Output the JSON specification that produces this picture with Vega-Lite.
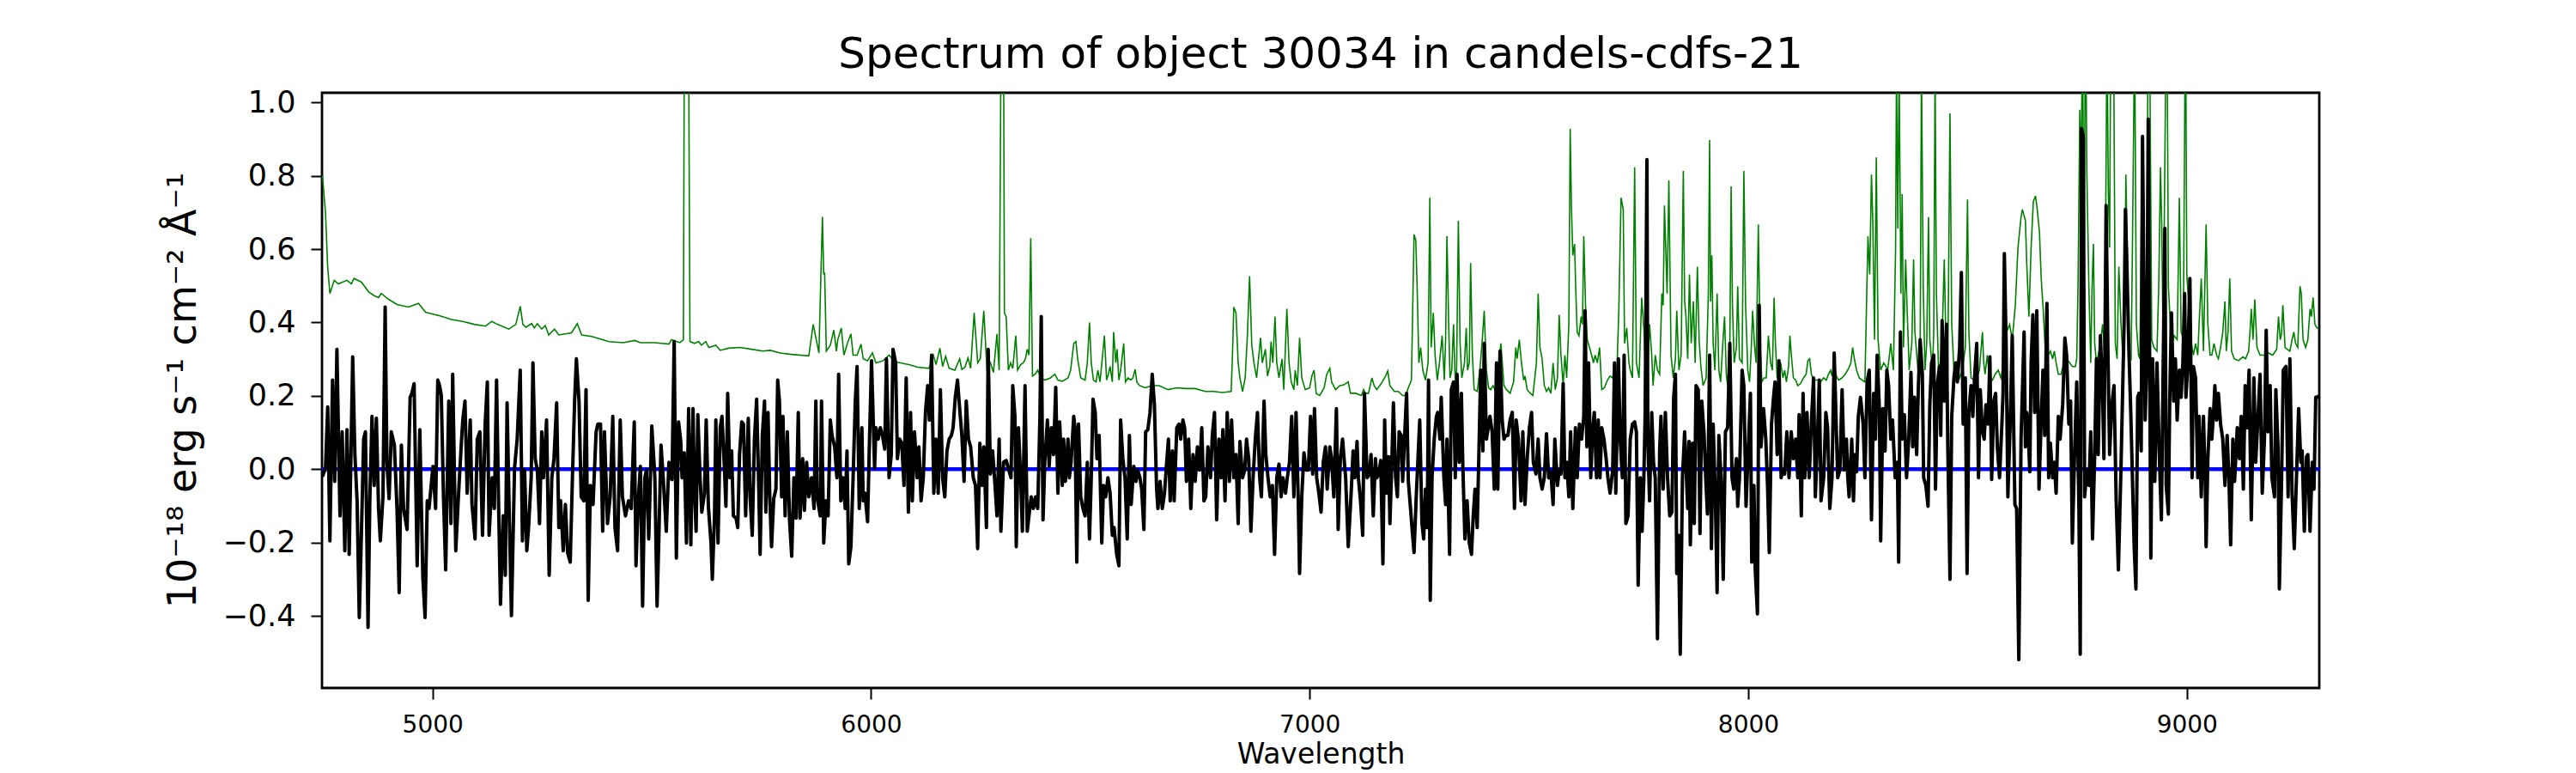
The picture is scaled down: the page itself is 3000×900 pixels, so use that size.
{
  "$schema": "https://vega.github.io/schema/vega-lite/v6.json",
  "width": 2326,
  "height": 693,
  "autosize": {"type": "none"},
  "padding": {"left": 375, "top": 108, "right": 299, "bottom": 99},
  "background": "white",
  "title": {
    "text": "Spectrum of object 30034 in candels-cdfs-21",
    "fontSize": 50,
    "fontWeight": "normal",
    "color": "black",
    "baseline": "alphabetic",
    "offset": -27
  },
  "datasets": {
    "model": [{"w": 4748, "v": 0}, {"w": 9302, "v": 0}],
    "flux": [
      {"w":4749,"v":-0.02},{"w":4756,"v":0.003},{"w":4761,"v":0.17},{"w":4766,"v":-0.195},{"w":4772,"v":0.243},{"w":4777,"v":-0.033},{"w":4782,"v":0.327},{"w":4789,"v":-0.127},{"w":4794,"v":0.102},{"w":4800,"v":-0.222},{"w":4805,"v":0.108},{"w":4810,"v":-0.232},{"w":4818,"v":0.306},{"w":4823,"v":0.04},{"w":4828,"v":-0.086},{"w":4833,"v":-0.404},{"w":4838,"v":-0.169},{"w":4843,"v":0.082},{"w":4847,"v":0.102},{"w":4853,"v":-0.431},{"w":4857,"v":-0.086},{"w":4862,"v":0.144},{"w":4867,"v":-0.044},{"w":4872,"v":0.139},{"w":4877,"v":-0.107},{"w":4881,"v":-0.195},{"w":4887,"v":-0.075},{"w":4892,"v":0.442},{"w":4896,"v":0.019},{"w":4901,"v":-0.08},{"w":4906,"v":0.102},{"w":4913,"v":0.066},{"w":4919,"v":-0.107},{"w":4924,"v":-0.336},{"w":4929,"v":0.066},{"w":4934,"v":-0.107},{"w":4942,"v":-0.164},{"w":4949,"v":0.196},{"w":4953,"v":0.207},{"w":4958,"v":0.233},{"w":4965,"v":-0.263},{"w":4971,"v":0.108},{"w":4978,"v":-0.295},{"w":4983,"v":-0.404},{"w":4988,"v":-0.086},{"w":4992,"v":-0.107},{"w":5001,"v":0.008},{"w":5007,"v":-0.107},{"w":5012,"v":0.243},{"w":5016,"v":0.228},{"w":5020,"v":0.202},{"w":5025,"v":-0.075},{"w":5030,"v":-0.274},{"w":5037,"v":0.186},{"w":5042,"v":-0.148},{"w":5046,"v":0.259},{"w":5053,"v":-0.222},{"w":5059,"v":-0.075},{"w":5066,"v":0.076},{"w":5069,"v":0.134},{"w":5074,"v":0.186},{"w":5079,"v":-0.065},{"w":5086,"v":0.134},{"w":5090,"v":-0.096},{"w":5097,"v":-0.19},{"w":5102,"v":0.082},{"w":5108,"v":0.102},{"w":5114,"v":-0.18},{"w":5120,"v":0.123},{"w":5125,"v":0.238},{"w":5129,"v":-0.18},{"w":5136,"v":-0.023},{"w":5141,"v":-0.107},{"w":5146,"v":0.243},{"w":5151,"v":-0.117},{"w":5155,"v":-0.368},{"w":5161,"v":-0.127},{"w":5166,"v":-0.289},{"w":5170,"v":0.181},{"w":5175,"v":-0.122},{"w":5180,"v":-0.399},{"w":5187,"v":0.003},{"w":5193,"v":0.082},{"w":5200,"v":0.27},{"w":5205,"v":-0.195},{"w":5210,"v":-0.002},{"w":5215,"v":-0.222},{"w":5219,"v":-0.159},{"w":5225,"v":-0.023},{"w":5229,"v":0.29},{"w":5234,"v":0.029},{"w":5239,"v":-0.002},{"w":5244,"v":-0.148},{"w":5249,"v":0.102},{"w":5253,"v":-0.023},{"w":5260,"v":0.134},{"w":5266,"v":-0.289},{"w":5272,"v":-0.023},{"w":5277,"v":0.029},{"w":5283,"v":0.181},{"w":5288,"v":-0.159},{"w":5292,"v":-0.086},{"w":5298,"v":-0.222},{"w":5303,"v":-0.096},{"w":5308,"v":-0.227},{"w":5314,"v":-0.253},{"w":5319,"v":-0.023},{"w":5324,"v":0.186},{"w":5328,"v":0.301},{"w":5334,"v":0.186},{"w":5339,"v":-0.075},{"w":5345,"v":-0.086},{"w":5350,"v":0.217},{"w":5355,"v":-0.357},{"w":5360,"v":-0.044},{"w":5366,"v":-0.096},{"w":5373,"v":0.102},{"w":5377,"v":0.123},{"w":5383,"v":0.123},{"w":5388,"v":-0.169},{"w":5392,"v":0.102},{"w":5399,"v":-0.148},{"w":5405,"v":-0.075},{"w":5411,"v":0.144},{"w":5416,"v":-0.159},{"w":5422,"v":-0.222},{"w":5428,"v":0.134},{"w":5433,"v":-0.075},{"w":5440,"v":-0.127},{"w":5447,"v":-0.086},{"w":5453,"v":-0.107},{"w":5460,"v":0.129},{"w":5464,"v":-0.263},{"w":5469,"v":-0.086},{"w":5474,"v":0.008},{"w":5479,"v":-0.373},{"w":5484,"v":-0.023},{"w":5488,"v":-0.002},{"w":5493,"v":-0.19},{"w":5500,"v":0.118},{"w":5507,"v":-0.023},{"w":5512,"v":-0.373},{"w":5516,"v":-0.19},{"w":5521,"v":0.066},{"w":5526,"v":-0.023},{"w":5533,"v":-0.169},{"w":5539,"v":0.019},
      {"w":5541,"v":-0.023},{"w":5546,"v":-0.028},{"w":5551,"v":0.348},{"w":5556,"v":-0.242},{"w":5561,"v":0.129},{"w":5566,"v":0.076},{"w":5569,"v":-0.023},{"w":5574,"v":0.045},{"w":5579,"v":-0.201},{"w":5584,"v":0.165},{"w":5589,"v":-0.206},{"w":5594,"v":0.165},{"w":5597,"v":-0.044},{"w":5601,"v":-0.169},{"w":5605,"v":0.149},{"w":5610,"v":-0.023},{"w":5614,"v":-0.117},{"w":5620,"v":-0.065},{"w":5624,"v":0.134},{"w":5629,"v":-0.101},{"w":5635,"v":-0.201},{"w":5638,"v":-0.3},{"w":5643,"v":-0.127},{"w":5646,"v":0.134},{"w":5651,"v":-0.201},{"w":5656,"v":0.113},{"w":5660,"v":0.144},{"w":5665,"v":0.019},{"w":5669,"v":-0.101},{"w":5673,"v":0.207},{"w":5678,"v":-0.023},{"w":5682,"v":0.05},{"w":5686,"v":-0.127},{"w":5692,"v":-0.133},{"w":5696,"v":-0.159},{"w":5700,"v":0.04},{"w":5705,"v":0.129},{"w":5709,"v":0.123},{"w":5714,"v":-0.127},{"w":5720,"v":0.139},{"w":5724,"v":-0.075},{"w":5729,"v":-0.18},{"w":5734,"v":0.082},{"w":5739,"v":0.191},{"w":5744,"v":-0.06},{"w":5747,"v":-0.232},{"w":5752,"v":0.092},{"w":5757,"v":0.186},{"w":5760,"v":-0.117},{"w":5765,"v":0.155},{"w":5769,"v":-0.075},{"w":5773,"v":-0.211},{"w":5778,"v":-0.08},{"w":5783,"v":-0.054},{"w":5787,"v":0.243},{"w":5791,"v":0.186},{"w":5796,"v":-0.075},{"w":5799,"v":0.144},{"w":5804,"v":-0.127},{"w":5809,"v":0.102},{"w":5814,"v":-0.138},{"w":5819,"v":-0.237},{"w":5824,"v":-0.023},{"w":5829,"v":-0.133},{"w":5834,"v":0.155},{"w":5838,"v":-0.133},{"w":5844,"v":0.029},{"w":5848,"v":-0.112},{"w":5853,"v":0.019},{"w":5858,"v":-0.075},{"w":5864,"v":-0.023},{"w":5870,"v":-0.107},{"w":5874,"v":0.186},{"w":5877,"v":-0.075},{"w":5884,"v":-0.127},{"w":5887,"v":0.186},{"w":5892,"v":-0.201},{"w":5897,"v":-0.086},{"w":5902,"v":-0.127},{"w":5907,"v":0.134},{"w":5911,"v":0.092},{"w":5917,"v":0.061},{"w":5922,"v":-0.023},{"w":5926,"v":0.259},{"w":5931,"v":-0.086},{"w":5936,"v":-0.023},{"w":5941,"v":-0.107},{"w":5945,"v":0.05},{"w":5949,"v":-0.258},{"w":5954,"v":-0.211},{"w":5959,"v":-0.023},{"w":5964,"v":0.186},{"w":5968,"v":0.28},{"w":5973,"v":-0.107},{"w":5979,"v":0.113},{"w":5982,"v":-0.086},{"w":5986,"v":-0.065},{"w":5992,"v":-0.143},{"w":5996,"v":0.061},{"w":6001,"v":0.296},{"w":6008,"v":0.003},{"w":6011,"v":0.113},{"w":6016,"v":0.082},{"w":6021,"v":0.113},{"w":6026,"v":0.092},{"w":6031,"v":0.055},{"w":6035,"v":0.301},{"w":6041,"v":-0.023},{"w":6046,"v":0.04},{"w":6050,"v":0.327},{"w":6056,"v":0.29},{"w":6060,"v":0.029},{"w":6065,"v":0.082},{"w":6070,"v":0.071},{"w":6075,"v":-0.044},{"w":6080,"v":0.249},{"w":6085,"v":-0.117},{"w":6090,"v":0.155},{"w":6094,"v":-0.086},{"w":6099,"v":0.102},{"w":6105,"v":-0.023},{"w":6109,"v":0.061},{"w":6114,"v":-0.086},{"w":6119,"v":-0.023},{"w":6124,"v":0.155},{"w":6129,"v":0.228},{"w":6133,"v":0.134},{"w":6138,"v":0.311},{"w":6143,"v":-0.065},{"w":6148,"v":0.082},{"w":6153,"v":-0.065},{"w":6158,"v":0.217},{"w":6163,"v":-0.023},{"w":6168,"v":-0.075},{"w":6173,"v":0.05},{"w":6178,"v":0.082},{"w":6183,"v":0.092},{"w":6187,"v":0.113},{"w":6192,"v":0.196},{"w":6197,"v":0.243},{"w":6202,"v":0.165},{"w":6207,"v":0.092},{"w":6212,"v":-0.033},{"w":6217,"v":0.186},{"w":6222,"v":0.082},{"w":6227,"v":0.061},{"w":6233,"v":-0.023},{"w":6238,"v":-0.044},{"w":6243,"v":-0.216},{"w":6248,"v":0.071},{"w":6253,"v":-0.044},{"w":6257,"v":0.061},{"w":6263,"v":-0.159},{"w":6267,"v":0.327},{"w":6272,"v":-0.013},{"w":6277,"v":0.05},{"w":6282,"v":-0.033},{"w":6287,"v":-0.127},{"w":6292,"v":0.082},{"w":6296,"v":-0.169},{"w":6302,"v":0.019},{"w":6308,"v":0.024},
      {"w":6319,"v":-0.023},{"w":6323,"v":0.228},{"w":6328,"v":0.144},{"w":6331,"v":-0.211},{"w":6336,"v":0.113},{"w":6341,"v":-0.023},{"w":6345,"v":-0.169},{"w":6351,"v":0.228},{"w":6356,"v":-0.169},{"w":6360,"v":-0.127},{"w":6365,"v":-0.075},{"w":6370,"v":-0.107},{"w":6375,"v":-0.075},{"w":6380,"v":-0.107},{"w":6385,"v":0.144},{"w":6388,"v":0.416},{"w":6392,"v":-0.138},{"w":6396,"v":0.019},{"w":6402,"v":0.134},{"w":6406,"v":0.008},{"w":6411,"v":0.113},{"w":6416,"v":0.04},{"w":6421,"v":0.223},{"w":6426,"v":-0.065},{"w":6430,"v":0.129},{"w":6436,"v":-0.044},{"w":6439,"v":0.082},{"w":6443,"v":-0.033},{"w":6449,"v":0.082},{"w":6452,"v":-0.023},{"w":6456,"v":0.019},{"w":6462,"v":0.144},{"w":6465,"v":0.113},{"w":6469,"v":-0.253},{"w":6473,"v":0.123},{"w":6478,"v":-0.075},{"w":6483,"v":-0.107},{"w":6488,"v":-0.127},{"w":6493,"v":0.019},{"w":6498,"v":-0.19},{"w":6502,"v":-0.023},{"w":6506,"v":0.191},{"w":6511,"v":0.155},{"w":6515,"v":0.029},{"w":6520,"v":0.092},{"w":6526,"v":-0.201},{"w":6530,"v":-0.044},{"w":6535,"v":-0.075},{"w":6540,"v":-0.023},{"w":6545,"v":-0.065},{"w":6550,"v":-0.18},{"w":6554,"v":-0.159},{"w":6560,"v":-0.232},{"w":6565,"v":-0.263},{"w":6569,"v":0.134},{"w":6574,"v":0.029},{"w":6579,"v":-0.023},{"w":6584,"v":-0.19},{"w":6589,"v":0.092},{"w":6593,"v":-0.096},{"w":6599,"v":0.008},{"w":6604,"v":-0.033},{"w":6608,"v":-0.002},{"w":6613,"v":-0.023},{"w":6617,"v":-0.054},{"w":6622,"v":-0.164},{"w":6626,"v":0.102},{"w":6631,"v":0.108},{"w":6636,"v":0.155},{"w":6641,"v":0.259},{"w":6646,"v":0.176},{"w":6651,"v":-0.054},{"w":6654,"v":-0.107},{"w":6659,"v":-0.033},{"w":6664,"v":-0.107},{"w":6669,"v":-0.065},{"w":6674,"v":0.019},{"w":6678,"v":0.082},{"w":6682,"v":-0.086},{"w":6687,"v":0.05},{"w":6691,"v":-0.086},{"w":6697,"v":0.113},{"w":6702,"v":0.123},{"w":6706,"v":0.082},{"w":6711,"v":0.134},{"w":6715,"v":0.113},{"w":6719,"v":-0.033},{"w":6724,"v":0.082},{"w":6729,"v":-0.107},{"w":6734,"v":0.04},{"w":6739,"v":-0.033},{"w":6744,"v":0.061},{"w":6749,"v":-0.002},{"w":6754,"v":0.113},{"w":6759,"v":-0.086},{"w":6763,"v":-0.075},{"w":6768,"v":0.061},{"w":6774,"v":-0.023},{"w":6778,"v":0.092},{"w":6783,"v":0.155},{"w":6788,"v":-0.138},{"w":6793,"v":0.082},{"w":6798,"v":-0.023},{"w":6802,"v":0.108},{"w":6807,"v":-0.086},{"w":6812,"v":0.155},{"w":6817,"v":-0.033},{"w":6822,"v":0.134},{"w":6827,"v":-0.023},{"w":6832,"v":0.04},{"w":6837,"v":-0.148},{"w":6841,"v":0.076},{"w":6847,"v":-0.023},{"w":6852,"v":-0.002},{"w":6856,"v":0.082},{"w":6861,"v":0.029},{"w":6866,"v":-0.169},{"w":6871,"v":-0.023},{"w":6876,"v":0.082},{"w":6881,"v":0.155},{"w":6886,"v":-0.023},{"w":6890,"v":-0.075},{"w":6896,"v":0.186},{"w":6900,"v":0.04},{"w":6905,"v":-0.023},{"w":6910,"v":-0.075},{"w":6915,"v":-0.044},{"w":6920,"v":-0.232},{"w":6925,"v":-0.023},{"w":6930,"v":0.014},{"w":6935,"v":-0.075},{"w":6939,"v":-0.023},{"w":6945,"v":-0.065},{"w":6949,"v":-0.023},{"w":6954,"v":0.019},{"w":6959,"v":0.144},{"w":6964,"v":-0.075},{"w":6969,"v":0.155},{"w":6974,"v":-0.086},{"w":6977,"v":-0.284},{"w":6982,"v":-0.075},{"w":6987,"v":0.045},{"w":6992,"v":-0.002},{"w":6997,"v":-0.002},{"w":7002,"v":0.144},{"w":7007,"v":-0.013},{"w":7011,"v":0.165},{"w":7016,"v":-0.023},{"w":7021,"v":-0.065},{"w":7026,"v":-0.117},{"w":7031,"v":0.019},{"w":7036,"v":0.061},{"w":7040,"v":-0.054},{"w":7046,"v":0.061},{"w":7050,"v":0.029},{"w":7055,"v":-0.075},{"w":7061,"v":0.165},{"w":7065,"v":-0.164},{"w":7070,"v":0.029},{"w":7075,"v":0.082},{"w":7082,"v":-0.023},{"w":7088,"v":-0.211},
      {"w":7095,"v":-0.054},{"w":7099,"v":0.05},{"w":7103,"v":-0.023},{"w":7108,"v":0.076},{"w":7111,"v":-0.023},{"w":7116,"v":-0.086},{"w":7121,"v":-0.18},{"w":7125,"v":0.207},{"w":7131,"v":-0.023},{"w":7136,"v":-0.013},{"w":7140,"v":0.04},{"w":7145,"v":-0.127},{"w":7150,"v":0.029},{"w":7153,"v":-0.023},{"w":7158,"v":-0.013},{"w":7162,"v":0.024},{"w":7167,"v":-0.258},{"w":7171,"v":0.134},{"w":7175,"v":-0.065},{"w":7180,"v":0.034},{"w":7183,"v":-0.148},{"w":7187,"v":0.003},{"w":7191,"v":0.181},{"w":7196,"v":-0.023},{"w":7200,"v":-0.075},{"w":7204,"v":0.102},{"w":7209,"v":0.092},{"w":7212,"v":-0.033},{"w":7217,"v":0.102},{"w":7221,"v":0.207},{"w":7225,"v":-0.033},{"w":7230,"v":-0.107},{"w":7234,"v":-0.169},{"w":7238,"v":-0.227},{"w":7243,"v":-0.075},{"w":7247,"v":0.029},{"w":7251,"v":0.134},{"w":7256,"v":-0.148},{"w":7260,"v":-0.19},{"w":7264,"v":-0.054},{"w":7268,"v":-0.159},{"w":7271,"v":0.243},{"w":7275,"v":-0.357},{"w":7279,"v":-0.023},{"w":7284,"v":0.082},{"w":7289,"v":0.144},{"w":7292,"v":0.155},{"w":7297,"v":0.082},{"w":7300,"v":0.196},{"w":7306,"v":-0.023},{"w":7310,"v":-0.096},{"w":7313,"v":0.082},{"w":7319,"v":-0.232},{"w":7323,"v":0.217},{"w":7328,"v":0.238},{"w":7332,"v":-0.023},{"w":7336,"v":0.259},{"w":7341,"v":0.019},{"w":7346,"v":0.207},{"w":7349,"v":0.019},{"w":7354,"v":-0.19},{"w":7359,"v":-0.086},{"w":7364,"v":-0.201},{"w":7369,"v":-0.232},{"w":7373,"v":-0.127},{"w":7377,"v":-0.054},{"w":7382,"v":-0.159},{"w":7386,"v":0.05},{"w":7390,"v":0.27},{"w":7395,"v":0.05},{"w":7398,"v":0.343},{"w":7403,"v":0.082},{"w":7407,"v":0.113},{"w":7411,"v":0.144},{"w":7416,"v":0.102},{"w":7421,"v":-0.054},{"w":7426,"v":0.29},{"w":7429,"v":-0.054},{"w":7434,"v":0.322},{"w":7439,"v":0.134},{"w":7443,"v":0.082},{"w":7447,"v":0.092},{"w":7452,"v":0.092},{"w":7457,"v":0.134},{"w":7462,"v":0.155},{"w":7467,"v":-0.107},{"w":7471,"v":0.134},{"w":7476,"v":0.082},{"w":7482,"v":-0.086},{"w":7486,"v":0.102},{"w":7491,"v":-0.096},{"w":7496,"v":0.029},{"w":7501,"v":0.113},{"w":7506,"v":0.155},{"w":7510,"v":0.019},{"w":7516,"v":-0.013},{"w":7521,"v":0.082},{"w":7525,"v":-0.023},{"w":7530,"v":-0.054},{"w":7535,"v":-0.023},{"w":7540,"v":0.097},{"w":7545,"v":-0.023},{"w":7550,"v":-0.007},{"w":7555,"v":-0.096},{"w":7559,"v":0.082},{"w":7565,"v":-0.044},{"w":7569,"v":-0.002},{"w":7573,"v":-0.013},{"w":7578,"v":0.233},{"w":7582,"v":-0.023},{"w":7586,"v":0.019},{"w":7591,"v":-0.075},{"w":7595,"v":0.102},{"w":7600,"v":-0.107},{"w":7606,"v":0.113},{"w":7610,"v":-0.023},{"w":7615,"v":0.123},{"w":7620,"v":0.082},{"w":7625,"v":0.144},{"w":7628,"v":0.432},{"w":7632,"v":0.061},{"w":7636,"v":0.29},{"w":7641,"v":-0.023},{"w":7645,"v":0.102},{"w":7649,"v":0.155},{"w":7654,"v":-0.023},{"w":7658,"v":0.134},{"w":7662,"v":-0.023},{"w":7666,"v":0.113},{"w":7671,"v":0.082},{"w":7676,"v":0.029},{"w":7680,"v":-0.023},{"w":7685,"v":-0.065},{"w":7691,"v":-0.002},{"w":7695,"v":0.29},{"w":7698,"v":-0.065},{"w":7704,"v":0.301},{"w":7708,"v":0.082},{"w":7713,"v":-0.023},{"w":7717,"v":0.311},{"w":7721,"v":-0.148},{"w":7726,"v":-0.127},{"w":7731,"v":0.082},{"w":7736,"v":0.123},{"w":7741,"v":0.129},{"w":7745,"v":0.102},{"w":7749,"v":-0.316},{"w":7754,"v":-0.023},{"w":7758,"v":-0.169},{"w":7762,"v":-0.023},{"w":7765,"v":0.155},{"w":7769,"v":0.844},{"w":7771,"v":0.082},{"w":7775,"v":-0.086},{"w":7780,"v":0.155},{"w":7784,"v":0.019},{"w":7788,"v":-0.023},{"w":7793,"v":-0.462},{"w":7798,"v":0.05},{"w":7801,"v":0.144},{"w":7806,"v":-0.054},{"w":7811,"v":0.155},{"w":7816,"v":-0.023},{"w":7821,"v":-0.127},{"w":7826,"v":-0.117},{"w":7830,"v":0.196},{"w":7834,"v":0.259},{"w":7837,"v":-0.284},{"w":7841,"v":-0.18},{"w":7845,"v":-0.504},{"w":7850,"v":-0.023},{"w":7855,"v":0.102},
      {"w":7862,"v":-0.107},{"w":7865,"v":0.076},{"w":7868,"v":-0.206},{"w":7873,"v":0.071},{"w":7877,"v":-0.148},{"w":7881,"v":0.228},{"w":7886,"v":0.217},{"w":7890,"v":-0.175},{"w":7894,"v":0.186},{"w":7899,"v":0.102},{"w":7903,"v":-0.023},{"w":7907,"v":-0.122},{"w":7912,"v":0.311},{"w":7916,"v":-0.216},{"w":7920,"v":0.123},{"w":7925,"v":-0.075},{"w":7929,"v":-0.336},{"w":7933,"v":0.092},{"w":7938,"v":-0.023},{"w":7943,"v":-0.3},{"w":7948,"v":0.102},{"w":7953,"v":0.113},{"w":7958,"v":0.343},{"w":7963,"v":-0.023},{"w":7967,"v":-0.054},{"w":7973,"v":0.029},{"w":7976,"v":-0.101},{"w":7980,"v":-0.023},{"w":7986,"v":0.27},{"w":7990,"v":0.228},{"w":7995,"v":-0.101},{"w":8001,"v":0.082},{"w":8005,"v":0.207},{"w":8008,"v":-0.253},{"w":8013,"v":-0.044},{"w":8016,"v":-0.274},{"w":8021,"v":-0.394},{"w":8025,"v":0.447},{"w":8029,"v":0.061},{"w":8035,"v":0.165},{"w":8040,"v":0.082},{"w":8044,"v":-0.044},{"w":8048,"v":-0.227},{"w":8053,"v":0.123},{"w":8057,"v":0.186},{"w":8061,"v":0.238},{"w":8066,"v":0.04},{"w":8070,"v":0.296},{"w":8075,"v":-0.023},{"w":8079,"v":-0.002},{"w":8083,"v":-0.013},{"w":8088,"v":0.102},{"w":8093,"v":-0.023},{"w":8098,"v":0.102},{"w":8103,"v":0.029},{"w":8108,"v":0.082},{"w":8113,"v":-0.023},{"w":8116,"v":0.149},{"w":8121,"v":-0.127},{"w":8125,"v":0.207},{"w":8129,"v":-0.023},{"w":8134,"v":0.155},{"w":8139,"v":-0.023},{"w":8144,"v":0.129},{"w":8149,"v":0.249},{"w":8153,"v":-0.075},{"w":8157,"v":0.05},{"w":8162,"v":0.243},{"w":8166,"v":-0.086},{"w":8172,"v":-0.023},{"w":8177,"v":0.155},{"w":8181,"v":0.113},{"w":8186,"v":-0.107},{"w":8191,"v":-0.023},{"w":8196,"v":0.317},{"w":8201,"v":0.102},{"w":8204,"v":-0.023},{"w":8209,"v":-0.002},{"w":8214,"v":0.217},{"w":8219,"v":-0.002},{"w":8224,"v":0.082},{"w":8227,"v":-0.023},{"w":8230,"v":-0.075},{"w":8236,"v":0.082},{"w":8240,"v":-0.086},{"w":8243,"v":0.04},{"w":8247,"v":-0.007},{"w":8251,"v":0.144},{"w":8256,"v":0.196},{"w":8262,"v":0.123},{"w":8266,"v":-0.023},{"w":8271,"v":0.238},{"w":8276,"v":0.27},{"w":8281,"v":-0.138},{"w":8286,"v":0.207},{"w":8290,"v":0.082},{"w":8294,"v":0.311},{"w":8299,"v":0.165},{"w":8302,"v":-0.195},{"w":8307,"v":0.165},{"w":8312,"v":0.05},{"w":8316,"v":0.27},{"w":8320,"v":0.228},{"w":8325,"v":0.082},{"w":8329,"v":0.134},{"w":8335,"v":-0.023},{"w":8340,"v":0.019},{"w":8343,"v":-0.253},{"w":8347,"v":0.374},{"w":8351,"v":0.082},{"w":8356,"v":0.149},{"w":8361,"v":-0.023},{"w":8366,"v":0.082},{"w":8371,"v":0.264},{"w":8375,"v":0.061},{"w":8379,"v":0.196},{"w":8384,"v":0.04},{"w":8388,"v":0.228},{"w":8392,"v":0.353},{"w":8397,"v":0.259},{"w":8400,"v":-0.023},{"w":8405,"v":-0.044},{"w":8410,"v":-0.101},{"w":8414,"v":0.176},{"w":8418,"v":0.29},{"w":8423,"v":0.311},{"w":8427,"v":-0.054},{"w":8431,"v":0.228},{"w":8436,"v":0.28},{"w":8439,"v":0.092},{"w":8442,"v":0.405},{"w":8447,"v":0.186},{"w":8452,"v":0.395},{"w":8455,"v":0.061},{"w":8460,"v":-0.3},{"w":8464,"v":0.144},{"w":8469,"v":0.249},{"w":8473,"v":0.29},{"w":8477,"v":0.238},{"w":8482,"v":0.332},{"w":8486,"v":0.536},{"w":8490,"v":0.123},{"w":8495,"v":0.249},{"w":8499,"v":-0.284},{"w":8503,"v":0.155},{"w":8508,"v":0.228},{"w":8512,"v":0.144},{"w":8516,"v":0.249},{"w":8521,"v":0.343},{"w":8525,"v":-0.023},{"w":8529,"v":0.217},{"w":8534,"v":0.102},{"w":8538,"v":0.082},{"w":8542,"v":0.176},{"w":8547,"v":0.123},{"w":8551,"v":0.306},{"w":8555,"v":-0.028},{"w":8560,"v":0.186},{"w":8564,"v":0.207},{"w":8568,"v":0.061},{"w":8573,"v":-0.023},{"w":8578,"v":0.113},{"w":8581,"v":0.207},{"w":8584,"v":0.588},{"w":8588,"v":0.343},{"w":8592,"v":-0.075},{"w":8597,"v":0.113},{"w":8602,"v":0.364},{"w":8608,"v":-0.096},{"w":8612,"v":-0.107},{"w":8617,"v":-0.519},{"w":8622,"v":0.082},
      {"w":8629,"v":0.374},{"w":8632,"v":0.061},{"w":8635,"v":0.155},{"w":8638,"v":0.113},{"w":8642,"v":-0.007},{"w":8645,"v":0.29},{"w":8649,"v":0.421},{"w":8653,"v":0.155},{"w":8658,"v":0.432},{"w":8663,"v":-0.054},{"w":8668,"v":0.134},{"w":8672,"v":0.27},{"w":8676,"v":0.092},{"w":8681,"v":0.452},{"w":8685,"v":-0.023},{"w":8689,"v":0.071},{"w":8694,"v":-0.023},{"w":8698,"v":0.019},{"w":8702,"v":-0.065},{"w":8707,"v":0.144},{"w":8711,"v":0.082},{"w":8717,"v":0.176},{"w":8722,"v":0.358},{"w":8726,"v":0.311},{"w":8731,"v":0.123},{"w":8735,"v":0.186},{"w":8739,"v":-0.201},{"w":8744,"v":0.04},{"w":8749,"v":0.238},{"w":8754,"v":-0.107},{"w":8757,"v":-0.504},{"w":8760,"v":0.928},{"w":8764,"v":0.907},{"w":8767,"v":-0.075},{"w":8772,"v":-0.002},{"w":8777,"v":-0.044},{"w":8781,"v":0.102},{"w":8785,"v":-0.19},{"w":8790,"v":0.04},{"w":8794,"v":0.301},{"w":8798,"v":0.04},{"w":8803,"v":0.364},{"w":8808,"v":0.207},{"w":8811,"v":0.029},{"w":8816,"v":0.719},{"w":8820,"v":0.332},{"w":8824,"v":0.04},{"w":8829,"v":0.176},{"w":8834,"v":0.228},{"w":8839,"v":-0.086},{"w":8844,"v":-0.274},{"w":8850,"v":0.008},{"w":8857,"v":0.395},{"w":8860,"v":0.708},{"w":8863,"v":0.573},{"w":8868,"v":0.322},{"w":8872,"v":0.165},{"w":8876,"v":-0.023},{"w":8880,"v":-0.211},{"w":8884,"v":-0.326},{"w":8888,"v":0.196},{"w":8891,"v":0.207},{"w":8896,"v":0.05},{"w":8899,"v":0.907},{"w":8905,"v":0.134},{"w":8909,"v":0.306},{"w":8912,"v":0.954},{"w":8918,"v":-0.242},{"w":8922,"v":0.301},{"w":8927,"v":-0.033},{"w":8932,"v":0.29},{"w":8937,"v":0.05},{"w":8942,"v":-0.138},{"w":8946,"v":0.27},{"w":8950,"v":0.656},{"w":8953,"v":-0.044},{"w":8958,"v":-0.122},{"w":8961,"v":0.186},{"w":8965,"v":0.426},{"w":8970,"v":0.186},{"w":8974,"v":0.301},{"w":8978,"v":0.134},{"w":8983,"v":0.27},{"w":8987,"v":0.196},{"w":8991,"v":0.29},{"w":8995,"v":0.479},{"w":8998,"v":0.196},{"w":9002,"v":0.28},{"w":9007,"v":0.52},{"w":9012,"v":-0.023},{"w":9015,"v":0.28},{"w":9020,"v":0.249},{"w":9025,"v":-0.023},{"w":9028,"v":0.144},{"w":9033,"v":-0.075},{"w":9038,"v":0.144},{"w":9042,"v":-0.033},{"w":9044,"v":-0.211},{"w":9048,"v":0.029},{"w":9053,"v":0.165},{"w":9057,"v":0.082},{"w":9061,"v":0.155},{"w":9064,"v":0.228},{"w":9068,"v":0.134},{"w":9072,"v":0.207},{"w":9077,"v":0.123},{"w":9082,"v":0.082},{"w":9087,"v":-0.044},{"w":9092,"v":0.092},{"w":9096,"v":-0.023},{"w":9100,"v":-0.206},{"w":9105,"v":0.082},{"w":9109,"v":-0.033},{"w":9115,"v":0.113},{"w":9120,"v":0.029},{"w":9124,"v":0.144},{"w":9129,"v":-0.054},{"w":9133,"v":0.228},{"w":9137,"v":0.113},{"w":9142,"v":0.27},{"w":9147,"v":-0.138},{"w":9153,"v":0.249},{"w":9157,"v":0.019},{"w":9162,"v":0.134},{"w":9167,"v":0.259},{"w":9172,"v":-0.065},{"w":9177,"v":0.082},{"w":9181,"v":0.379},{"w":9185,"v":0.102},{"w":9190,"v":0.228},{"w":9194,"v":-0.023},{"w":9200,"v":-0.075},{"w":9203,"v":0.217},{"w":9208,"v":0.061},{"w":9211,"v":-0.326},{"w":9216,"v":-0.033},{"w":9220,"v":0.27},{"w":9226,"v":0.28},{"w":9231,"v":-0.075},{"w":9235,"v":0.301},{"w":9240,"v":-0.065},{"w":9245,"v":-0.216},{"w":9250,"v":-0.023},{"w":9255,"v":0.165},{"w":9260,"v":0.019},{"w":9263,"v":0.05},{"w":9268,"v":-0.169},{"w":9273,"v":0.034},{"w":9276,"v":0.04},{"w":9281,"v":-0.169},{"w":9286,"v":0.019},{"w":9290,"v":-0.054},{"w":9294,"v":0.196},{"w":9297,"v":0.196},{"w":9301,"v":0.2}
    ],
    "sky": [
      {"w":4749,"v":0.8},{"w":4756,"v":0.7},{"w":4761,"v":0.55},{"w":4766,"v":0.479},{"w":4776,"v":0.515},{"w":4785,"v":0.505},{"w":4805,"v":0.515},{"w":4815,"v":0.505},{"w":4821,"v":0.52},{"w":4838,"v":0.51},{"w":4854,"v":0.484},{"w":4867,"v":0.473},{"w":4877,"v":0.468},{"w":4883,"v":0.479},{"w":4900,"v":0.463},{"w":4919,"v":0.449},{"w":4945,"v":0.442},{"w":4968,"v":0.452},{"w":4984,"v":0.428},{"w":4997,"v":0.424},{"w":5017,"v":0.418},{"w":5043,"v":0.408},{"w":5069,"v":0.403},{"w":5095,"v":0.395},{"w":5121,"v":0.39},{"w":5135,"v":0.403},{"w":5148,"v":0.395},{"w":5174,"v":0.382},{"w":5190,"v":0.395},{"w":5200,"v":0.444},{"w":5206,"v":0.395},{"w":5213,"v":0.387},{"w":5226,"v":0.397},{"w":5232,"v":0.385},{"w":5239,"v":0.397},{"w":5249,"v":0.382},{"w":5257,"v":0.392},{"w":5265,"v":0.366},{"w":5278,"v":0.382},{"w":5288,"v":0.366},{"w":5317,"v":0.372},{"w":5330,"v":0.397},{"w":5340,"v":0.366},{"w":5363,"v":0.362},{"w":5383,"v":0.355},{"w":5402,"v":0.348},{"w":5435,"v":0.345},{"w":5461,"v":0.351},{"w":5474,"v":0.345},{"w":5507,"v":0.345},{"w":5539,"v":0.341},
      {"w":5545,"v":0.353},{"w":5564,"v":0.345},{"w":5572,"v":0.353},{"w":5575,"v":1.5},{"w":5579,"v":1.6},{"w":5583,"v":1.4},{"w":5587,"v":0.348},{"w":5597,"v":0.343},{"w":5607,"v":0.348},{"w":5613,"v":0.338},{"w":5623,"v":0.348},{"w":5630,"v":0.332},{"w":5646,"v":0.338},{"w":5656,"v":0.324},{"w":5675,"v":0.33},{"w":5701,"v":0.332},{"w":5727,"v":0.327},{"w":5753,"v":0.322},{"w":5770,"v":0.324},{"w":5793,"v":0.317},{"w":5819,"v":0.313},{"w":5858,"v":0.309},{"w":5868,"v":0.395},{"w":5881,"v":0.317},{"w":5889,"v":0.688},{"w":5892,"v":0.531},{"w":5894,"v":0.536},{"w":5898,"v":0.322},{"w":5907,"v":0.338},{"w":5915,"v":0.379},{"w":5921,"v":0.322},{"w":5924,"v":0.353},{"w":5932,"v":0.385},{"w":5938,"v":0.311},{"w":5946,"v":0.343},{"w":5954,"v":0.369},{"w":5959,"v":0.311},{"w":5968,"v":0.311},{"w":5977,"v":0.341},{"w":5982,"v":0.301},{"w":5992,"v":0.296},{"w":6003,"v":0.317},{"w":6011,"v":0.29},{"w":6028,"v":0.296},{"w":6041,"v":0.311},{"w":6054,"v":0.293},{"w":6067,"v":0.29},{"w":6086,"v":0.285},{"w":6106,"v":0.278},{"w":6132,"v":0.275},{"w":6142,"v":0.311},{"w":6148,"v":0.285},{"w":6157,"v":0.33},{"w":6163,"v":0.28},{"w":6170,"v":0.308},{"w":6178,"v":0.275},{"w":6191,"v":0.27},{"w":6202,"v":0.301},{"w":6207,"v":0.272},{"w":6214,"v":0.278},{"w":6221,"v":0.303},{"w":6227,"v":0.275},{"w":6235,"v":0.426},{"w":6243,"v":0.29},{"w":6249,"v":0.301},{"w":6257,"v":0.432},{"w":6264,"v":0.275},{"w":6272,"v":0.29},{"w":6279,"v":0.264},{"w":6287,"v":0.369},{"w":6292,"v":0.27},{"w":6295,"v":0.9},{"w":6298,"v":1.6},{"w":6302,"v":1.2},{"w":6304,"v":0.426},{"w":6308,"v":0.416},
      {"w":6313,"v":0.27},{"w":6318,"v":0.29},{"w":6323,"v":0.275},{"w":6330,"v":0.364},{"w":6334,"v":0.27},{"w":6341,"v":0.285},{"w":6347,"v":0.29},{"w":6352,"v":0.301},{"w":6356,"v":0.327},{"w":6360,"v":0.311},{"w":6364,"v":0.63},{"w":6368,"v":0.254},{"w":6374,"v":0.259},{"w":6380,"v":0.27},{"w":6387,"v":0.249},{"w":6396,"v":0.243},{"w":6409,"v":0.249},{"w":6419,"v":0.259},{"w":6426,"v":0.243},{"w":6436,"v":0.24},{"w":6449,"v":0.249},{"w":6455,"v":0.27},{"w":6462,"v":0.343},{"w":6467,"v":0.348},{"w":6471,"v":0.301},{"w":6478,"v":0.249},{"w":6488,"v":0.243},{"w":6493,"v":0.29},{"w":6498,"v":0.4},{"w":6502,"v":0.29},{"w":6507,"v":0.243},{"w":6513,"v":0.238},{"w":6517,"v":0.27},{"w":6522,"v":0.238},{"w":6527,"v":0.301},{"w":6532,"v":0.364},{"w":6537,"v":0.243},{"w":6541,"v":0.259},{"w":6545,"v":0.28},{"w":6550,"v":0.238},{"w":6553,"v":0.374},{"w":6558,"v":0.29},{"w":6561,"v":0.327},{"w":6565,"v":0.243},{"w":6569,"v":0.27},{"w":6576,"v":0.343},{"w":6580,"v":0.238},{"w":6586,"v":0.249},{"w":6592,"v":0.243},{"w":6597,"v":0.249},{"w":6602,"v":0.272},{"w":6606,"v":0.238},{"w":6612,"v":0.228},{"w":6625,"v":0.222},{"w":6641,"v":0.228},{"w":6657,"v":0.228},{"w":6677,"v":0.217},{"w":6697,"v":0.222},{"w":6716,"v":0.22},{"w":6739,"v":0.22},{"w":6762,"v":0.212},{"w":6781,"v":0.212},{"w":6801,"v":0.209},{"w":6821,"v":0.212},{"w":6824,"v":0.311},{"w":6827,"v":0.442},{"w":6832,"v":0.426},{"w":6837,"v":0.29},{"w":6841,"v":0.249},{"w":6847,"v":0.212},{"w":6853,"v":0.249},{"w":6858,"v":0.364},{"w":6863,"v":0.526},{"w":6868,"v":0.338},{"w":6873,"v":0.29},{"w":6879,"v":0.249},{"w":6888,"v":0.358},{"w":6892,"v":0.29},{"w":6899,"v":0.327},{"w":6904,"v":0.254},{"w":6909,"v":0.28},{"w":6912,"v":0.348},{"w":6916,"v":0.29},{"w":6921,"v":0.416},{"w":6925,"v":0.29},{"w":6930,"v":0.249},{"w":6937,"v":0.301},{"w":6941,"v":0.217},{"w":6948,"v":0.437},{"w":6953,"v":0.29},{"w":6958,"v":0.238},{"w":6964,"v":0.217},{"w":6967,"v":0.27},{"w":6972,"v":0.228},{"w":6977,"v":0.358},{"w":6982,"v":0.249},{"w":6990,"v":0.217},{"w":7000,"v":0.222},{"w":7005,"v":0.254},{"w":7010,"v":0.27},{"w":7015,"v":0.206},{"w":7023,"v":0.201},{"w":7033,"v":0.222},{"w":7039,"v":0.259},{"w":7046,"v":0.275},{"w":7050,"v":0.238},{"w":7059,"v":0.217},{"w":7069,"v":0.228},{"w":7078,"v":0.23},{"w":7088,"v":0.238},
      {"w":7093,"v":0.207},{"w":7105,"v":0.207},{"w":7118,"v":0.201},{"w":7123,"v":0.217},{"w":7127,"v":0.207},{"w":7134,"v":0.207},{"w":7142,"v":0.249},{"w":7147,"v":0.228},{"w":7153,"v":0.217},{"w":7163,"v":0.233},{"w":7173,"v":0.254},{"w":7178,"v":0.268},{"w":7183,"v":0.228},{"w":7193,"v":0.212},{"w":7202,"v":0.212},{"w":7212,"v":0.201},{"w":7219,"v":0.201},{"w":7225,"v":0.222},{"w":7232,"v":0.243},{"w":7238,"v":0.64},{"w":7242,"v":0.624},{"w":7245,"v":0.499},{"w":7249,"v":0.29},{"w":7253,"v":0.332},{"w":7258,"v":0.27},{"w":7264,"v":0.243},{"w":7270,"v":0.29},{"w":7274,"v":0.74},{"w":7277,"v":0.332},{"w":7282,"v":0.426},{"w":7286,"v":0.311},{"w":7291,"v":0.243},{"w":7296,"v":0.29},{"w":7302,"v":0.364},{"w":7307,"v":0.243},{"w":7310,"v":0.353},{"w":7313,"v":0.635},{"w":7317,"v":0.395},{"w":7320,"v":0.249},{"w":7324,"v":0.27},{"w":7328,"v":0.395},{"w":7332,"v":0.238},{"w":7335,"v":0.27},{"w":7339,"v":0.677},{"w":7343,"v":0.343},{"w":7347,"v":0.249},{"w":7353,"v":0.29},{"w":7357,"v":0.385},{"w":7360,"v":0.27},{"w":7364,"v":0.29},{"w":7367,"v":0.562},{"w":7371,"v":0.311},{"w":7375,"v":0.217},{"w":7382,"v":0.212},{"w":7388,"v":0.27},{"w":7393,"v":0.343},{"w":7398,"v":0.432},{"w":7403,"v":0.27},{"w":7408,"v":0.222},{"w":7413,"v":0.217},{"w":7418,"v":0.228},{"w":7424,"v":0.212},{"w":7431,"v":0.29},{"w":7436,"v":0.343},{"w":7443,"v":0.228},{"w":7449,"v":0.217},{"w":7457,"v":0.207},{"w":7465,"v":0.238},{"w":7470,"v":0.332},{"w":7473,"v":0.301},{"w":7478,"v":0.353},{"w":7483,"v":0.29},{"w":7488,"v":0.243},{"w":7491,"v":0.254},{"w":7496,"v":0.217},{"w":7503,"v":0.207},{"w":7509,"v":0.201},{"w":7517,"v":0.29},{"w":7521,"v":0.479},{"w":7525,"v":0.332},{"w":7530,"v":0.301},{"w":7535,"v":0.228},{"w":7540,"v":0.212},{"w":7545,"v":0.222},{"w":7550,"v":0.207},{"w":7555,"v":0.29},{"w":7560,"v":0.217},{"w":7565,"v":0.249},{"w":7569,"v":0.421},{"w":7573,"v":0.311},{"w":7578,"v":0.228},{"w":7582,"v":0.311},{"w":7586,"v":0.249},{"w":7591,"v":0.395},{"w":7594,"v":0.928},{"w":7597,"v":0.708},{"w":7600,"v":0.583},{"w":7604,"v":0.614},{"w":7607,"v":0.479},{"w":7610,"v":0.374},{"w":7614,"v":0.364},{"w":7619,"v":0.416},{"w":7622,"v":0.395},{"w":7625,"v":0.635},{"w":7629,"v":0.447},{"w":7633,"v":0.353},{"w":7638,"v":0.332},{"w":7643,"v":0.311},{"w":7647,"v":0.29},{"w":7651,"v":0.311},{"w":7656,"v":0.29},{"w":7661,"v":0.332},{"w":7666,"v":0.217},{"w":7672,"v":0.222},{"w":7679,"v":0.243},{"w":7685,"v":0.254},{"w":7691,"v":0.249},{"w":7695,"v":0.29},{"w":7700,"v":0.249},{"w":7705,"v":0.437},{"w":7710,"v":0.74},{"w":7715,"v":0.708},{"w":7718,"v":0.343},{"w":7723,"v":0.385},{"w":7728,"v":0.29},{"w":7731,"v":0.27},{"w":7736,"v":0.249},{"w":7741,"v":0.823},{"w":7745,"v":0.29},{"w":7751,"v":0.249},{"w":7757,"v":0.468},{"w":7762,"v":0.385},{"w":7767,"v":0.222},{"w":7770,"v":0.249},{"w":7775,"v":0.395},{"w":7780,"v":0.311},{"w":7783,"v":0.228},{"w":7788,"v":0.311},{"w":7793,"v":0.27},{"w":7798,"v":0.259},{"w":7803,"v":0.479},{"w":7806,"v":0.447},{"w":7809,"v":0.719},{"w":7815,"v":0.479},{"w":7819,"v":0.787},{"w":7824,"v":0.311},{"w":7829,"v":0.249},{"w":7834,"v":0.301},{"w":7837,"v":0.432},{"w":7842,"v":0.27},{"w":7847,"v":0.311},{"w":7852,"v":0.813},{"w":7855,"v":0.457},{"w":7858,"v":0.416},
      {"w":7862,"v":0.301},{"w":7866,"v":0.531},{"w":7870,"v":0.343},{"w":7875,"v":0.457},{"w":7879,"v":0.29},{"w":7884,"v":0.552},{"w":7888,"v":0.353},{"w":7892,"v":0.28},{"w":7897,"v":0.228},{"w":7904,"v":0.249},{"w":7909,"v":0.479},{"w":7912,"v":0.897},{"w":7914,"v":0.457},{"w":7917,"v":0.583},{"w":7920,"v":0.343},{"w":7924,"v":0.27},{"w":7929,"v":0.479},{"w":7933,"v":0.27},{"w":7937,"v":0.238},{"w":7942,"v":0.343},{"w":7946,"v":0.416},{"w":7950,"v":0.259},{"w":7953,"v":0.228},{"w":7958,"v":0.332},{"w":7961,"v":0.771},{"w":7964,"v":0.447},{"w":7968,"v":0.29},{"w":7973,"v":0.332},{"w":7976,"v":0.499},{"w":7980,"v":0.301},{"w":7986,"v":0.29},{"w":7990,"v":0.813},{"w":7994,"v":0.447},{"w":7999,"v":0.27},{"w":8003,"v":0.238},{"w":8007,"v":0.332},{"w":8010,"v":0.432},{"w":8014,"v":0.343},{"w":8018,"v":0.29},{"w":8023,"v":0.667},{"w":8027,"v":0.343},{"w":8031,"v":0.238},{"w":8036,"v":0.249},{"w":8041,"v":0.249},{"w":8046,"v":0.364},{"w":8051,"v":0.29},{"w":8055,"v":0.27},{"w":8059,"v":0.468},{"w":8062,"v":0.343},{"w":8066,"v":0.249},{"w":8070,"v":0.27},{"w":8074,"v":0.29},{"w":8079,"v":0.249},{"w":8083,"v":0.27},{"w":8087,"v":0.238},{"w":8092,"v":0.28},{"w":8095,"v":0.364},{"w":8099,"v":0.301},{"w":8103,"v":0.249},{"w":8108,"v":0.243},{"w":8113,"v":0.228},{"w":8119,"v":0.233},{"w":8126,"v":0.249},{"w":8132,"v":0.259},{"w":8136,"v":0.296},{"w":8140,"v":0.301},{"w":8144,"v":0.259},{"w":8149,"v":0.243},{"w":8159,"v":0.243},{"w":8165,"v":0.238},{"w":8172,"v":0.249},{"w":8178,"v":0.243},{"w":8183,"v":0.259},{"w":8188,"v":0.27},{"w":8191,"v":0.254},{"w":8196,"v":0.29},{"w":8201,"v":0.254},{"w":8206,"v":0.243},{"w":8214,"v":0.249},{"w":8221,"v":0.259},{"w":8229,"v":0.275},{"w":8234,"v":0.29},{"w":8238,"v":0.332},{"w":8242,"v":0.301},{"w":8247,"v":0.27},{"w":8253,"v":0.249},{"w":8260,"v":0.243},{"w":8266,"v":0.238},{"w":8273,"v":0.635},{"w":8277,"v":0.531},{"w":8281,"v":0.803},{"w":8284,"v":0.677},{"w":8288,"v":0.353},{"w":8292,"v":0.85},{"w":8296,"v":0.353},{"w":8302,"v":0.27},{"w":8309,"v":0.29},{"w":8314,"v":0.28},{"w":8318,"v":0.27},{"w":8325,"v":0.343},{"w":8331,"v":0.27},{"w":8336,"v":0.6},{"w":8338,"v":1.1},{"w":8341,"v":0.656},{"w":8344,"v":1.1},{"w":8348,"v":0.479},{"w":8351,"v":0.75},{"w":8354,"v":0.332},{"w":8359,"v":0.572},{"w":8362,"v":0.447},{"w":8367,"v":0.27},{"w":8373,"v":0.343},{"w":8377,"v":0.572},{"w":8380,"v":0.374},{"w":8387,"v":0.27},{"w":8392,"v":0.311},{"w":8395,"v":1.1},{"w":8399,"v":0.499},{"w":8403,"v":0.27},{"w":8407,"v":0.343},{"w":8411,"v":0.687},{"w":8414,"v":0.353},{"w":8420,"v":0.27},{"w":8423,"v":0.374},{"w":8426,"v":1.1},{"w":8429,"v":0.479},{"w":8434,"v":0.27},{"w":8438,"v":0.29},{"w":8442,"v":0.353},{"w":8447,"v":0.572},{"w":8451,"v":0.332},{"w":8455,"v":0.27},{"w":8460,"v":0.97},{"w":8464,"v":0.395},{"w":8469,"v":0.27},{"w":8475,"v":0.29},{"w":8482,"v":0.249},{"w":8488,"v":0.27},{"w":8495,"v":0.332},{"w":8500,"v":0.735},{"w":8503,"v":0.374},{"w":8508,"v":0.249},{"w":8514,"v":0.243},{"w":8521,"v":0.249},{"w":8527,"v":0.27},{"w":8534,"v":0.374},{"w":8537,"v":0.29},{"w":8540,"v":0.259},{"w":8545,"v":0.311},{"w":8550,"v":0.249},{"w":8557,"v":0.243},{"w":8563,"v":0.259},{"w":8570,"v":0.27},{"w":8576,"v":0.249},{"w":8583,"v":0.29},{"w":8589,"v":0.374},{"w":8596,"v":0.395},{"w":8602,"v":0.353},{"w":8609,"v":0.447},{"w":8615,"v":0.604},{"w":8622,"v":0.687},
      {"w":8625,"v":0.708},{"w":8632,"v":0.678},{"w":8635,"v":0.561},{"w":8640,"v":0.416},{"w":8645,"v":0.604},{"w":8650,"v":0.729},{"w":8655,"v":0.745},{"w":8659,"v":0.708},{"w":8664,"v":0.646},{"w":8668,"v":0.52},{"w":8672,"v":0.447},{"w":8677,"v":0.332},{"w":8684,"v":0.311},{"w":8689,"v":0.322},{"w":8694,"v":0.301},{"w":8698,"v":0.322},{"w":8702,"v":0.29},{"w":8707,"v":0.259},{"w":8713,"v":0.259},{"w":8720,"v":0.29},{"w":8726,"v":0.301},{"w":8733,"v":0.29},{"w":8739,"v":0.28},{"w":8746,"v":0.28},{"w":8749,"v":0.301},{"w":8752,"v":0.499},{"w":8756,"v":0.98},{"w":8759,"v":0.781},{"w":8762,"v":1.2},{"w":8766,"v":0.552},{"w":8769,"v":1.3},{"w":8772,"v":0.813},{"w":8777,"v":0.479},{"w":8781,"v":0.29},{"w":8784,"v":0.499},{"w":8787,"v":0.614},{"w":8790,"v":0.343},{"w":8794,"v":0.29},{"w":8798,"v":0.311},{"w":8803,"v":0.343},{"w":8808,"v":0.395},{"w":8813,"v":0.311},{"w":8818,"v":1.2},{"w":8821,"v":0.761},{"w":8824,"v":0.604},{"w":8827,"v":1.3},{"w":8833,"v":1.2},{"w":8837,"v":0.343},{"w":8841,"v":0.301},{"w":8845,"v":0.552},{"w":8850,"v":0.395},{"w":8855,"v":0.29},{"w":8859,"v":0.499},{"w":8861,"v":0.803},{"w":8865,"v":0.552},{"w":8868,"v":0.311},{"w":8873,"v":0.301},{"w":8876,"v":0.604},{"w":8881,"v":1.2},{"w":8885,"v":0.395},{"w":8890,"v":0.311},{"w":8893,"v":0.301},{"w":8898,"v":0.907},{"w":8901,"v":0.499},{"w":8905,"v":0.311},{"w":8908,"v":0.343},{"w":8912,"v":1.3},{"w":8916,"v":1.05},{"w":8920,"v":0.353},{"w":8925,"v":0.332},{"w":8932,"v":0.322},{"w":8936,"v":0.499},{"w":8940,"v":0.823},{"w":8943,"v":0.656},{"w":8946,"v":0.343},{"w":8952,"v":1.1},{"w":8955,"v":1.2},{"w":8958,"v":0.499},{"w":8965,"v":0.332},{"w":8971,"v":0.364},{"w":8978,"v":0.353},{"w":8983,"v":0.74},{"w":8987,"v":0.374},{"w":8992,"v":0.353},{"w":8997,"v":1.3},{"w":9000,"v":0.531},{"w":9004,"v":0.457},{"w":9009,"v":0.353},{"w":9015,"v":0.311},{"w":9020,"v":0.343},{"w":9025,"v":0.311},{"w":9028,"v":0.395},{"w":9033,"v":0.52},{"w":9038,"v":0.322},{"w":9044,"v":0.667},{"w":9048,"v":0.395},{"w":9053,"v":0.311},{"w":9057,"v":0.311},{"w":9062,"v":0.343},{"w":9068,"v":0.311},{"w":9072,"v":0.301},{"w":9077,"v":0.332},{"w":9082,"v":0.374},{"w":9087,"v":0.457},{"w":9090,"v":0.322},{"w":9094,"v":0.374},{"w":9098,"v":0.52},{"w":9102,"v":0.322},{"w":9108,"v":0.301},{"w":9118,"v":0.296},{"w":9128,"v":0.306},{"w":9134,"v":0.301},{"w":9141,"v":0.322},{"w":9144,"v":0.374},{"w":9147,"v":0.437},{"w":9151,"v":0.353},{"w":9155,"v":0.463},{"w":9160,"v":0.332},{"w":9167,"v":0.311},{"w":9177,"v":0.311},{"w":9186,"v":0.317},{"w":9196,"v":0.311},{"w":9205,"v":0.327},{"w":9209,"v":0.416},{"w":9213,"v":0.353},{"w":9216,"v":0.369},{"w":9219,"v":0.447},{"w":9224,"v":0.332},{"w":9229,"v":0.327},{"w":9235,"v":0.322},{"w":9240,"v":0.353},{"w":9244,"v":0.374},{"w":9248,"v":0.343},{"w":9253,"v":0.332},{"w":9258,"v":0.499},{"w":9261,"v":0.479},{"w":9265,"v":0.353},{"w":9271,"v":0.332},{"w":9276,"v":0.353},{"w":9281,"v":0.437},{"w":9284,"v":0.416},{"w":9288,"v":0.468},{"w":9292,"v":0.395},{"w":9297,"v":0.385},{"w":9301,"v":0.385}
    ]
  },
  "encoding": {
    "x": {
      "field": "w",
      "type": "quantitative",
      "scale": {"domain": [4748, 9302], "nice": false, "zero": false},
      "axis": {
        "values": [5000, 6000, 7000, 8000, 9000],
        "format": "d",
        "labelFontSize": 28,
        "labelPadding": 16,
        "title": "Wavelength",
        "titleFontSize": 33,
        "titleY": 87,
        "titleBaseline": "alphabetic"
      }
    },
    "y": {
      "field": "v",
      "type": "quantitative",
      "scale": {"domain": [-0.596, 1.026], "nice": false, "zero": false},
      "axis": {
        "values": [-0.4, -0.2, 0, 0.2, 0.4, 0.6, 0.8, 1.0],
        "format": ".1f",
        "labelFontSize": 35,
        "labelPadding": 18,
        "title": "10⁻¹⁸ erg s⁻¹ cm⁻² Å⁻¹",
        "titleFontSize": 46,
        "titleX": -148,
        "titleY": 346,
        "titleAngle": 270,
        "titleAlign": "center",
        "titleBaseline": "alphabetic"
      }
    }
  },
  "layer": [
    {"data": {"name": "sky"}, "mark": {"type": "line", "color": "#008000", "strokeWidth": 1.6, "clip": true}},
    {"data": {"name": "model"}, "mark": {"type": "line", "color": "#0000ff", "strokeWidth": 4.5, "clip": true}},
    {"data": {"name": "flux"}, "mark": {"type": "line", "color": "#000000", "strokeWidth": 4, "strokeJoin": "round", "clip": true}}
  ],
  "config": {
    "font": "DejaVu Sans",
    "view": {"stroke": "#000000", "strokeWidth": 2.8},
    "axis": {
      "domain": false,
      "grid": false,
      "ticks": true,
      "tickSize": 13,
      "tickWidth": 2,
      "tickColor": "#000000",
      "labelColor": "#000000",
      "titleColor": "#000000",
      "titleFontWeight": "normal",
      "labelFont": "DejaVu Sans",
      "titleFont": "DejaVu Sans"
    },
    "title": {"font": "DejaVu Sans"}
  }
}
